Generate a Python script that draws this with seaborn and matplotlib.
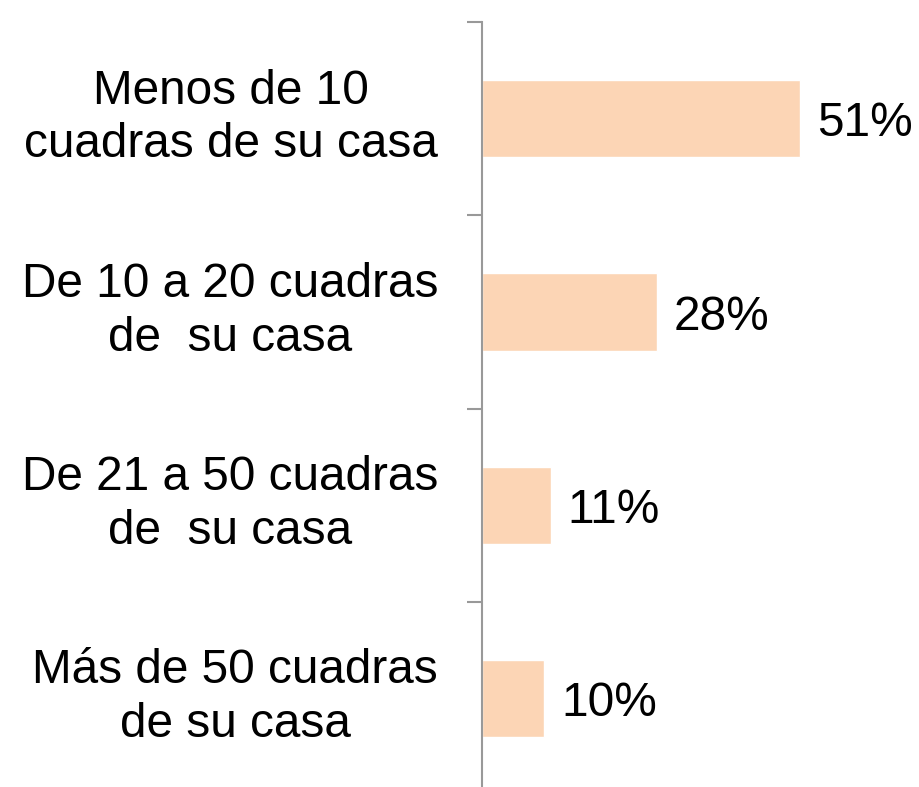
import matplotlib
matplotlib.use('Agg')
import matplotlib.pyplot as plt
import seaborn as sns

# distance categories and share of respondents (%)
categories = ['Menos de 10\ncuadras de su casa',
              'De 10 a 20 cuadras\nde  su casa',
              'De 21 a 50 cuadras\nde  su casa',
              'Más de 50 cuadras\nde su casa']
shares = [51, 28, 11, 10]
value_labels = ['51%', '28%', '11%', '10%']

sns.set_style('white')
plt.rcParams['font.family'] = ['Liberation Sans', 'DejaVu Sans']
plt.rcParams['text.color'] = 'black'

fig = plt.figure(figsize=(9.19, 7.87), dpi=100)
ax = fig.add_axes([0.5245, -0.0102, 0.407, 0.982])

sns.barplot(x=shares, y=categories, orient='h', color='#FCD5B5',
            saturation=1, width=0.4, ax=ax)

ax.set_xlim(0, 60)
ax.set_ylim(3.5, -0.5)
for side in ['top', 'right', 'bottom']:
    ax.spines[side].set_visible(False)
ax.spines['left'].set_color('#999999')
ax.spines['left'].set_linewidth(1.5)
ax.set_xticks([])
ax.set_xlabel('')
ax.set_ylabel('')

# tick marks between categories, category names drawn as text
ax.set_yticks([-0.5, 0.5, 1.5, 2.5, 3.5], minor=True)
ax.tick_params(axis='y', which='minor', length=10.8, width=1.5, color='#999999', left=True)
ax.tick_params(axis='y', which='major', length=0, labelleft=False)

for i, cat in enumerate(categories):
    ax.text(-0.1176, i - 0.004, cat, transform=ax.get_yaxis_transform(),
            ha='right', va='center', multialignment='center',
            linespacing=1.25, fontsize=34.4, color='black')

for i, (v, txt) in enumerate(zip(shares, value_labels)):
    ax.text(v + 2.7, i, txt, va='center_baseline', ha='left', fontsize=34.4, color='black')

fig.savefig('out.png', dpi=100)
